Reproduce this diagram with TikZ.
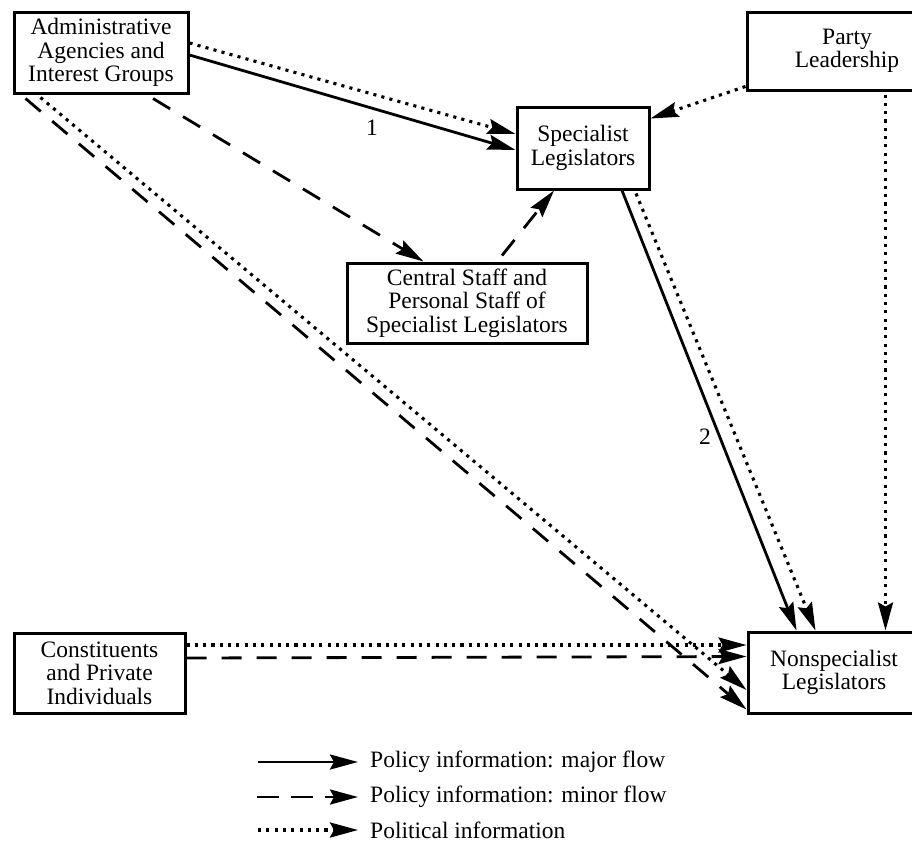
\documentclass[tikz,border=0pt]{standalone}
\usepackage{fontspec}
\setmainfont{Liberation Serif}
\usetikzlibrary{arrows.meta}
\begin{document}
\begin{tikzpicture}[x=1pt,y=-1pt,
  font=\fontsize{23.5}{23.5}\selectfont,
  box/.style={draw, line width=3pt, align=center, inner sep=1pt},
  tip/.style={-{Stealth[length=28pt,width=15pt,inset=4pt]}},
  major/.style={tip, line width=2.8pt},
  minor/.style={tip, line width=2.8pt, dash pattern=on 20pt off 15pt},
  polit/.style={tip, line width=3.1pt, dash pattern=on 3.1pt off 5.2pt},
  lbl/.style={inner sep=0pt}]
\useasboundingbox (0,0) rectangle (912,844);
\clip (0,0) rectangle (912,844);
% boxes
\node[box, minimum width=174, minimum height=81] (admin) at (101,52.5) {Administrative\\Agencies and\\Interest Groups};
\node[box, minimum width=132, minimum height=82] (spec) at (583,148) {Specialist\\Legislators};
\node[box, minimum width=240, minimum height=80] (central) at (467,303) {Central Staff and\\Personal Staff of\\Specialist Legislators};
\node[box, minimum width=200, minimum height=78] (party) at (847,51) {Party\\Leadership};
\node[box, minimum width=172, minimum height=81] (non) at (834,672.5) {Nonspecialist\\Legislators};
\node[box, minimum width=171, minimum height=80] (const) at (99.5,673) {Constituents\\and Private\\Individuals};
% connectors
\draw[major] ([yshift=-2.5]admin.east) -- ([yshift=-2]spec.west);
\draw[polit] ([yshift=9.5]admin.east) -- ([yshift=14]spec.west);
\draw[polit] ([yshift=5]party.south west) -- ([yshift=-13]spec.north east);
\draw[minor] ([xshift=52,yshift=-4]admin.south) -- ([xshift=78]central.north west);
\draw[minor] ([xshift=35,yshift=6]central.north) -- ([xshift=-29]spec.south);
\draw[major] ([xshift=39]spec.south) -- ([xshift=50]non.north west);
\draw[polit] ([xshift=53,yshift=-3]spec.south) -- ([xshift=69]non.north west);
\draw[polit] ([xshift=140,yshift=-3]party.south west) -- ([xshift=139]non.north west);
\draw[minor] ([xshift=13,yshift=-4]admin.south west) -- ([yshift=5]non.south west);
\draw[polit] ([xshift=28,yshift=-3]admin.south west) -- ([yshift=-17.5]non.west);
\draw[polit] ([yshift=28]const.east) -- ([yshift=27.5]non.west);
\draw[minor] ([yshift=15]const.east) -- ([yshift=16]non.west);
% labels
\node[lbl] (n1) at (372,128) {1};
\node[lbl] (n2) at (705,437) {2};
% legend
\coordinate (l1) at (258,762);
\coordinate (l2) at (257,797);
\coordinate (l3) at (258,830);
\node[lbl, anchor=west] (t1) at (370,762) {Policy information: major flow};
\node[lbl, anchor=west] (t2) at (370,797) {Policy information: minor flow};
\node[lbl, anchor=west] (t3) at (370,830) {Political information};
\draw[major] (l1) -- ([xshift=-12]t1.west);
\draw[minor, dash pattern=on 22pt off 12pt] (l2) -- ([xshift=-12]t2.west);
\draw[polit] (l3) -- ([xshift=-12]t3.west);
\end{tikzpicture}
\end{document}
